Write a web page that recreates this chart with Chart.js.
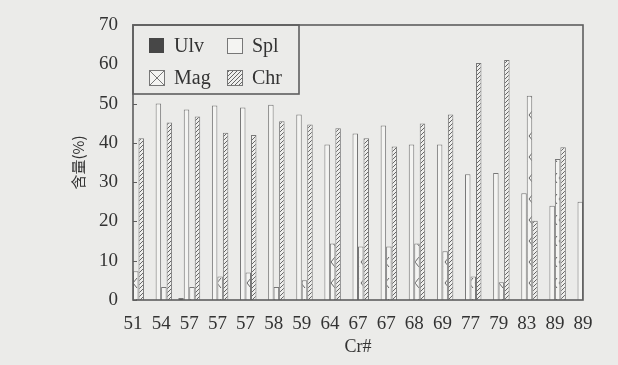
<!DOCTYPE html>
<html>
<head>
<meta charset="utf-8">
<script src="https://cdn.jsdelivr.net/npm/chart.js@4.4.1/dist/chart.umd.min.js"></script>
<style>
  html, body { margin: 0; padding: 0; background: #ebebe9; }
  #wrap { width: 618px; height: 365px; }
</style>
</head>
<body>
<div id="wrap"><canvas id="c" width="618" height="365"></canvas></div>
<script>
// Cr# of each sample (x categories)
const crLabels = ['51', '54', '57', '57', '57', '58', '59', '64', '67', '67', '68', '69', '77', '79', '83', '89', '89'];
// mineral contents (%)
const ulv = [0, 0, 0.5, 0, 0, 0, 0, 0, 0, 0, 0, 0, 0, 0, 0, 0, 0];
const spl = [0, 50, 48.5, 49.5, 49, 49.7, 47.2, 39.6, 42.4, 44.4, 39.6, 39.6, 32, 32.3, 27.2, 24, 25];
const mag = [7.3, 3.3, 3.3, 6, 7, 3.3, 5, 14.4, 13.6, 13.6, 14.4, 12.4, 6, 4.5, 52, 35.9, 0];
const chr = [41.2, 45.2, 46.7, 42.6, 42, 45.5, 44.7, 43.7, 41.2, 39.1, 44.9, 47.2, 60.3, 61.1, 20.2, 38.9, 0];
const yTicks = [0, 10, 20, 30, 40, 50, 60, 70];

const BG = '#ebebe9';
const INK = '#333333';
const EDGE = '#777777';
const LINE = '#5e5e5e';

function hatchPattern() {
  const t = document.createElement('canvas');
  t.width = 4; t.height = 4;
  const g = t.getContext('2d');
  g.fillStyle = '#efefed'; g.fillRect(0, 0, 4, 4);
  g.strokeStyle = '#666'; g.lineWidth = 1;
  g.beginPath();
  g.moveTo(0, 4); g.lineTo(4, 0);
  g.moveTo(-1, 1); g.lineTo(1, -1);
  g.moveTo(3, 5); g.lineTo(5, 3);
  g.stroke();
  return g.createPattern(t, 'repeat');
}

function magPattern() {
  const t = document.createElement('canvas');
  t.width = 6; t.height = 21;
  const g = t.getContext('2d');
  g.fillStyle = '#f4f4f2'; g.fillRect(0, 0, 6, 21);
  g.strokeStyle = '#666'; g.lineWidth = 1;
  g.beginPath();
  g.moveTo(5, 5); g.lineTo(1, 10); g.lineTo(5, 15);
  g.stroke();
  return g.createPattern(t, 'repeat');
}

const chrFill = hatchPattern();
const magFill = magPattern();

const legendItems = [
  { text: 'Ulv', x: 149, y: 38, kind: 'ulv' },
  { text: 'Spl', x: 227, y: 38, kind: 'spl' },
  { text: 'Mag', x: 149, y: 70, kind: 'mag' },
  { text: 'Chr', x: 227, y: 70, kind: 'chr' }
];

const framePlugin = {
  id: 'frame',
  beforeDraw(chart) {
    const ctx = chart.ctx;
    ctx.save();
    ctx.fillStyle = BG;
    ctx.fillRect(0, 0, chart.width, chart.height);
    ctx.restore();
  },
  afterDraw(chart) {
    const { ctx, chartArea: a } = chart;
    const y = chart.scales.y;
    ctx.save();
    // inward ticks on y axis
    ctx.strokeStyle = LINE;
    ctx.lineWidth = 1;
    y.ticks.forEach(t => {
      const py = Math.round(y.getPixelForValue(t.value)) + 0.5;
      ctx.beginPath();
      ctx.moveTo(a.left, py); ctx.lineTo(a.left + 4, py);
      ctx.stroke();
    });
    // legend box
    const lx = a.left, ly = a.top, lw = 166, lh = 69;
    ctx.fillStyle = BG;
    ctx.fillRect(lx, ly, lw, lh);
    ctx.strokeStyle = LINE;
    ctx.lineWidth = 1.6;
    ctx.strokeRect(lx, ly, lw, lh);
    ctx.font = '20px "Liberation Serif", serif';
    ctx.textBaseline = 'middle';
    legendItems.forEach(it => {
      const s = 15;
      if (it.kind === 'ulv') {
        ctx.fillStyle = '#474747';
        ctx.fillRect(it.x, it.y, s, s);
      } else {
        ctx.fillStyle = it.kind === 'chr' ? chrFill : '#f4f4f2';
        ctx.fillRect(it.x, it.y, s, s);
        ctx.strokeStyle = EDGE;
        ctx.lineWidth = 1;
        ctx.strokeRect(it.x + 0.5, it.y + 0.5, s, s);
        if (it.kind === 'mag') {
          ctx.beginPath();
          ctx.moveTo(it.x + 0.5, it.y + 0.5); ctx.lineTo(it.x + s + 0.5, it.y + s + 0.5);
          ctx.moveTo(it.x + s + 0.5, it.y + 0.5); ctx.lineTo(it.x + 0.5, it.y + s + 0.5);
          ctx.stroke();
        }
      }
      ctx.fillStyle = INK;
      ctx.fillText(it.text, it.x + 25, it.y + s / 2 + 1);
    });
    // plot frame
    ctx.strokeStyle = LINE;
    ctx.lineWidth = 1.6;
    ctx.strokeRect(a.left, a.top, a.right - a.left, a.bottom - a.top);
    ctx.restore();
  }
};

const barBase = { borderColor: EDGE, borderWidth: 1, categoryPercentage: 0.78, barPercentage: 1 };

new Chart(document.getElementById('c'), {
  type: 'bar',
  data: {
    labels: crLabels,
    datasets: [
      Object.assign({ label: 'Ulv', data: ulv, backgroundColor: '#474747' }, barBase),
      Object.assign({ label: 'Spl', data: spl, backgroundColor: '#f4f4f2' }, barBase),
      Object.assign({ label: 'Mag', data: mag, backgroundColor: magFill }, barBase),
      Object.assign({ label: 'Chr', data: chr, backgroundColor: chrFill }, barBase)
    ]
  },
  options: {
    responsive: false,
    animation: false,
    layout: { padding: { top: 25, right: 35, left: 0, bottom: 0 } },
    plugins: { legend: { display: false }, tooltip: { enabled: false } },
    scales: {
      x: {
        offset: false,
        grid: { display: false },
        border: { display: false },
        ticks: {
          autoSkip: false, maxRotation: 0, padding: 5, color: INK,
          font: { family: '"Liberation Serif", serif', size: 19 }
        },
        title: {
          display: true, text: 'Cr#', color: INK,
          font: { family: '"Liberation Serif", serif', size: 18 },
          padding: { top: 0, bottom: 7 }
        },
        afterFit(s) { s.height = 65; }
      },
      y: {
        min: 0, max: 70,
        afterBuildTicks(s) { s.ticks = yTicks.map(v => ({ value: v })); },
        grid: { display: false },
        border: { display: false },
        ticks: {
          padding: 7, color: INK,
          font: { family: '"Liberation Serif", serif', size: 19 }
        },
        title: {
          display: true, text: '含量(%)', color: INK,
          font: { family: '"Noto Sans CJK SC", sans-serif', size: 15 },
          padding: { top: 69, bottom: 0 }
        },
        afterFit(s) { s.width = 133; }
      }
    }
  },
  plugins: [framePlugin]
});
</script>
</body>
</html>
